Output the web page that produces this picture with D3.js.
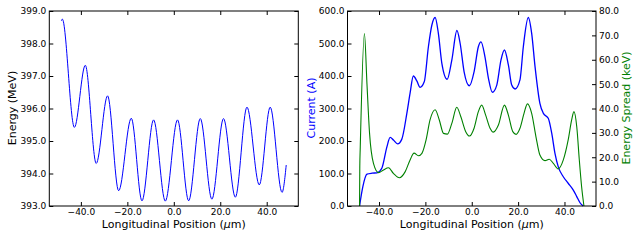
<!DOCTYPE html>
<html>
<head>
<meta charset="utf-8">
<script src="https://cdn.jsdelivr.net/npm/d3@7"></script>
<style>
  html, body { margin: 0; padding: 0; background: #fff; }
  svg { display: block; font-family: "DejaVu Sans", sans-serif; }
</style>
</head>
<body>
<svg id="chart" width="640" height="240"></svg>
<script>
// ---- data ----
const xTicks = [-40, -20, 0, 20, 40];
const energyTicks = [393, 394, 395, 396, 397, 398, 399];
const currentTicks = [0, 100, 200, 300, 400, 500, 600];
const spreadTicks = [0, 10, 20, 30, 40, 50, 60, 70, 80];

// left panel: energy (MeV) vs position (um)
const energyPos = [-48.4, -48.0, -42.8, -38.1, -33.4, -28.5, -23.75, -18.3, -13.7, -8.7, -3.66, 1.6, 6.4, 11.4, 16.4, 21.4, 26.5, 31.5, 36.8, 41.5, 46.6, 48.4];
const energyVal = [398.70, 398.75, 395.42, 397.33, 394.31, 396.39, 393.47, 395.70, 393.16, 395.65, 393.15, 395.65, 393.16, 395.69, 393.21, 395.69, 393.27, 396.04, 393.65, 396.04, 393.42, 394.26];

// right panel: current (A)
const currentPos = [-48.4, -47.0, -45.2, -43.0, -40.9, -38.8, -36.6, -35.2, -33.8, -32.0, -30.2, -28.0, -26.6, -25.2, -23.7, -22.3, -20.5, -18.7, -17.2, -15.8, -14.4, -12.9, -10.6, -8.6, -6.4, -5.0, -3.3, -1.0, 1.0, 2.85, 4.0, 5.7, 7.2, 8.9, 10.8, 12.6, 14.1, 15.8, 17.25, 18.7, 20.8, 22.25, 24.4, 25.85, 27.3, 29.4, 30.9, 33.0, 34.5, 35.9, 37.3, 39.5, 41.6, 43.8, 45.3, 46.7, 48.1];
const currentVal = [0, 59, 98, 101, 102, 116, 182, 211, 203, 191, 205, 285, 347, 400, 385, 365, 382, 490, 557, 580, 531, 439, 390, 449, 540, 500, 413, 370, 413, 490, 505, 459, 393, 350, 372, 449, 480, 434, 372, 360, 388, 490, 580, 531, 429, 316, 285, 270, 224, 162, 121, 90, 70, 49, 29, 10, 0];

// right panel: energy spread (keV)
const spreadPos = [-48.4, -48.3, -48.1, -46.3, -45.2, -44.1, -42.4, -40.2, -38.1, -35.9, -33.8, -31.2, -28.7, -26.6, -24.9, -23.0, -21.5, -19.7, -18.0, -15.8, -14.0, -12.2, -10.5, -8.6, -6.45, -4.7, -2.6, -1.0, 1.0, 2.85, 4.3, 6.0, 7.9, 9.3, 11.5, 14.1, 15.8, 17.7, 19.1, 20.8, 22.55, 24.0, 25.85, 27.7, 29.4, 31.6, 33.4, 35.2, 37.3, 39.5, 41.6, 43.1, 44.1, 45.3, 46.4, 47.4, 48.4];
const spreadVal = [0, 16, 24, 70.8, 50, 30, 17.5, 13.7, 14.8, 15.7, 13.4, 11.6, 14.1, 18.9, 21.7, 20.6, 21.6, 27.1, 35.3, 39.5, 35.3, 29.8, 29.5, 33.9, 40.5, 36.6, 30.5, 28.7, 31.9, 38.7, 41.4, 37.3, 31.9, 30.3, 33.2, 41.4, 37.3, 30.5, 29.4, 31.9, 38.0, 41.9, 38.0, 28.4, 20.9, 18.6, 19.2, 17.5, 15.2, 18.9, 27.1, 35.3, 38.7, 32.5, 18.9, 7.9, 0];

// ---- layout ----
const svg = d3.select('#chart');
const panelL = {x0: 49.3, x1: 298.3, y0: 11, y1: 206};
const panelR = {x0: 347.5, x1: 596, y0: 11, y1: 206};
const xDomain = [-53.6, 53.6];
const tickLen = 4;
const tickFont = 9;
const labelFont = 11;
const BLUE = '#0000ff';
const GREEN = '#008000';

function drawFrame(p) {
  svg.append('rect')
    .attr('x', p.x0).attr('y', p.y0)
    .attr('width', p.x1 - p.x0).attr('height', p.y1 - p.y0)
    .attr('fill', 'none').attr('stroke', '#000').attr('stroke-width', 1);
}

function xAxes(p, x) {
  // bottom labels + inward ticks top and bottom
  svg.append('g').attr('transform', `translate(0,${p.y1})`)
    .call(d3.axisBottom(x).tickValues(xTicks).tickFormat(d3.format('.1f')).tickSizeInner(-tickLen).tickSizeOuter(0).tickPadding(3))
    .call(g => g.select('.domain').remove())
    .call(g => g.selectAll('text').attr('font-size', tickFont).attr('font-family', 'DejaVu Sans').attr('fill', '#000'));
  svg.append('g').attr('transform', `translate(0,${p.y0})`)
    .call(d3.axisTop(x).tickValues(xTicks).tickFormat('').tickSizeInner(-tickLen).tickSizeOuter(0))
    .call(g => g.select('.domain').remove());
  const t = svg.append('text')
    .attr('x', (p.x0 + p.x1) / 2).attr('y', 227.5)
    .attr('text-anchor', 'middle').attr('font-size', labelFont);
  t.append('tspan').text('Longitudinal Position (');
  t.append('tspan').attr('font-style', 'italic').text('\u03bc');
  t.append('tspan').text('m)');
}

function yAxis(p, y, ticks, side, showLabels) {
  const ax = side === 'left' ? d3.axisLeft(y) : d3.axisRight(y);
  const xPos = side === 'left' ? p.x0 : p.x1;
  svg.append('g').attr('transform', `translate(${xPos},0)`)
    .call(ax.tickValues(ticks).tickFormat(showLabels ? d3.format('.1f') : '').tickSizeInner(-tickLen).tickSizeOuter(0).tickPadding(3))
    .call(g => g.select('.domain').remove())
    .call(g => g.selectAll('text').attr('font-size', tickFont).attr('font-family', 'DejaVu Sans').attr('fill', '#000'));
}

function yLabel(text, cx, cy, color) {
  svg.append('text')
    .attr('transform', `translate(${cx},${cy}) rotate(-90)`)
    .attr('text-anchor', 'middle').attr('dy', '0.35em')
    .attr('font-size', labelFont).attr('fill', color)
    .text(text);
}

// ---- left panel ----
const xL = d3.scaleLinear().domain(xDomain).range([panelL.x0, panelL.x1]);
const yE = d3.scaleLinear().domain([393, 399]).range([panelL.y1, panelL.y0]);

const energyLine = d3.line().x(d => xL(d[0])).y(d => yE(d[1])).curve(d3.curveMonotoneX);
svg.append('path')
  .datum(d3.zip(energyPos, energyVal))
  .attr('d', energyLine)
  .attr('fill', 'none').attr('stroke', BLUE).attr('stroke-width', 1);

yAxis(panelL, yE, energyTicks, 'left', true);
yAxis(panelL, yE, energyTicks, 'right', false);
xAxes(panelL, xL);
drawFrame(panelL);
yLabel('Energy (MeV)', 12.5, 108, '#000');

// ---- right panel ----
const xR = d3.scaleLinear().domain(xDomain).range([panelR.x0, panelR.x1]);
const yI = d3.scaleLinear().domain([0, 600]).range([panelR.y1, panelR.y0]);
const yS = d3.scaleLinear().domain([0, 80]).range([panelR.y1, panelR.y0]);

svg.append('path')
  .datum(d3.zip(currentPos, currentVal))
  .attr('d', d3.line().x(d => xR(d[0])).y(d => yI(d[1])).curve(d3.curveMonotoneX))
  .attr('fill', 'none').attr('stroke', BLUE).attr('stroke-width', 1.3);

svg.append('path')
  .datum(d3.zip(spreadPos, spreadVal))
  .attr('d', d3.line().x(d => xR(d[0])).y(d => yS(d[1])).curve(d3.curveMonotoneX))
  .attr('fill', 'none').attr('stroke', GREEN).attr('stroke-width', 1.1);

yAxis(panelR, yI, currentTicks, 'left', true);
yAxis(panelR, yS, spreadTicks, 'right', true);
xAxes(panelR, xR);
drawFrame(panelR);
yLabel('Current (A)', 311.5, 108, BLUE);
yLabel('Energy Spread (keV)', 626, 108, GREEN);
</script>
</body>
</html>
